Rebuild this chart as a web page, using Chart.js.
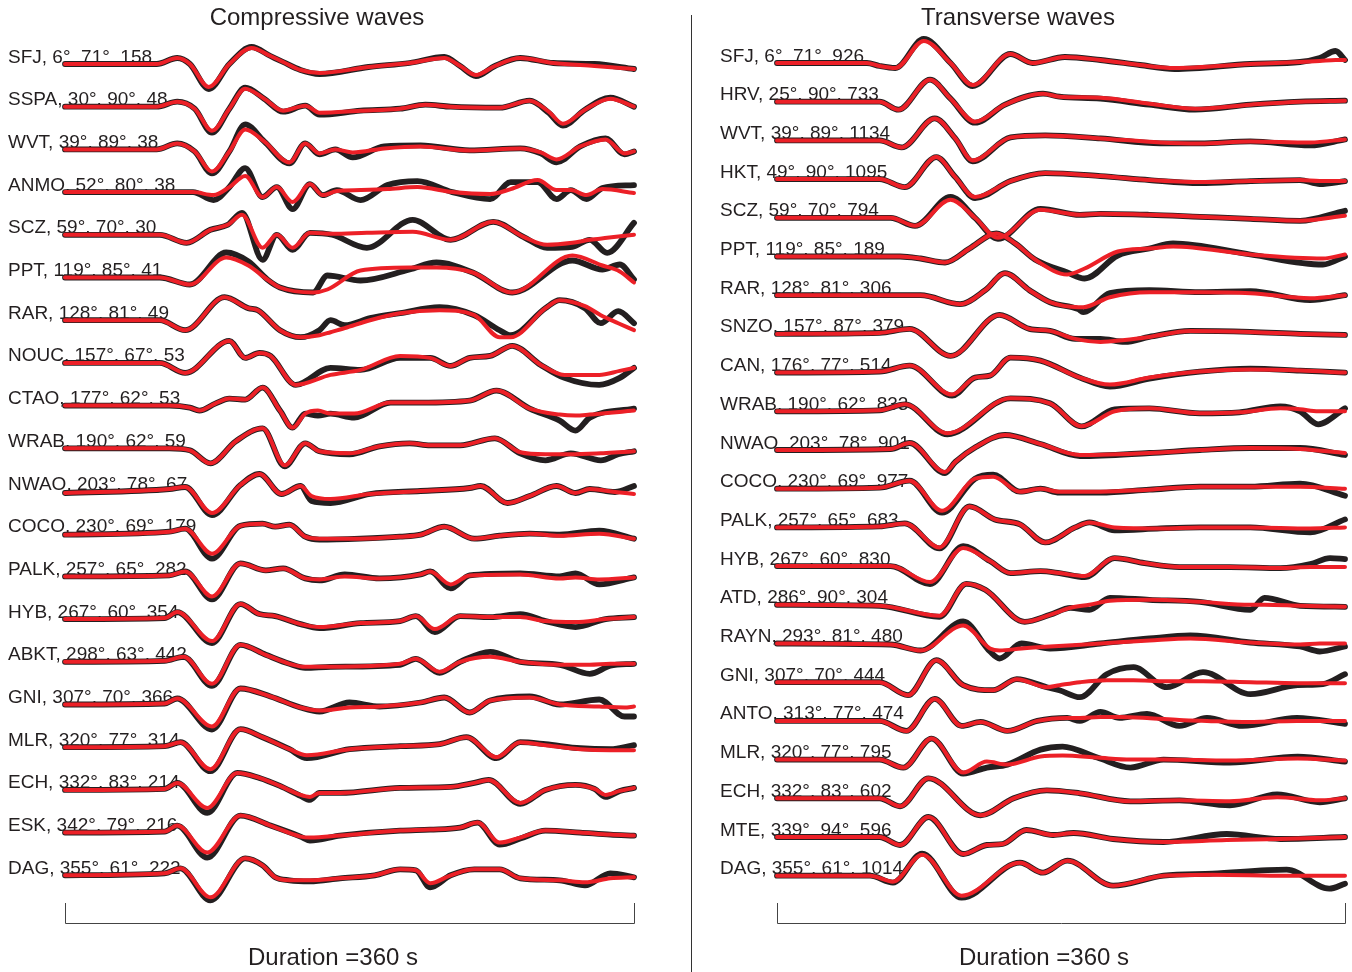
<!DOCTYPE html>
<html>
<head>
<meta charset="utf-8">
<script src="https://cdn.jsdelivr.net/npm/chart.js@4.4.1/dist/chart.umd.min.js"></script>
<style>
  html, body { margin: 0; padding: 0; background: #fff; }
  #wrap { position: relative; width: 1352px; height: 972px; overflow: hidden; }
  #pChart { position: absolute; left: 0; top: 0; }
  #sChart { position: absolute; left: 691px; top: 0; }
  #divider { position: absolute; left: 691px; top: 15px; width: 1px; height: 957px; background: #333; }
</style>
</head>
<body>
<div id="wrap">
  <canvas id="pChart" width="691" height="972"></canvas>
  <canvas id="sChart" width="661" height="972"></canvas>
  <div id="divider"></div>
</div>
<script>
// ---- Compressive (P) waves: station, azimuth, distance, amplitude ----
const pStations = ['SFJ', 'SSPA', 'WVT', 'ANMO', 'SCZ', 'PPT', 'RAR', 'NOUC', 'CTAO', 'WRAB',
                   'NWAO', 'COCO', 'PALK', 'HYB', 'ABKT', 'GNI', 'MLR', 'ECH', 'ESK', 'DAG'];
const pAzimuth = [6, 30, 39, 52, 59, 119, 128, 157, 177, 190, 203, 230, 257, 267, 298, 307, 320, 332, 342, 355];
const pDistance = [71, 90, 89, 80, 70, 85, 81, 67, 62, 62, 78, 69, 65, 60, 63, 70, 77, 83, 79, 61];
const pAmp = [158, 48, 38, 38, 30, 41, 49, 53, 53, 59, 67, 179, 282, 354, 442, 366, 314, 214, 216, 222];

// time (s) of each picked sample, observed (black) and synthetic (red) trace values
const pTime = [
  [0,58,71,79,91,104,118,130,138,149,161,192,218,240,250,260,272,288,309,335,360],
  [0,58,71,82,93,104,114,126,138,152,161,187,212,228,244,275,294,306,315,329,345,360],
  [0,58,71,82,93,104,114,126,142,152,161,171,182,202,225,256,288,301,311,326,342,354,360],
  [0,66,81,94,104,114,125,134,144,155,163,172,187,204,223,245,269,282,299,311,320,330,340,360],
  [0,60,77,92,103,112,125,134,144,155,169,191,220,244,271,290,305,321,332,343,360],
  [0,60,79,102,116,128,136,157,166,187,218,235,258,283,321,340,351,360],
  [0,60,76,101,116,122,136,149,161,168,177,193,212,237,259,275,282,304,313,329,339,350,360],
  [0,60,76,104,114,123,130,146,168,187,212,231,244,256,269,283,301,316,338,351,360],
  [0,66,79,85,95,104,114,125,136,144,152,160,168,183,206,225,256,273,294,313,323,332,360],
  [0,66,79,92,108,125,139,152,161,180,199,218,231,250,272,288,304,320,339,350,360],
  [0,66,76,93,111,123,137,149,156,168,193,225,256,263,280,294,311,323,332,348,360],
  [0,66,76,93,111,125,133,142,152,161,187,212,225,240,259,275,294,313,338,360],
  [0,66,76,93,111,127,138,152,161,177,199,225,231,244,256,288,313,323,338,360],
  [0,63,71,93,111,123,133,149,161,187,212,222,234,250,269,288,304,323,342,360],
  [0,63,75,93,111,127,142,152,168,212,222,237,250,269,288,313,332,345,360],
  [0,63,71,93,111,130,149,161,180,199,225,240,256,269,294,313,338,354,360],
  [0,63,73,92,111,125,142,153,180,212,237,254,273,288,304,326,345,360],
  [0,63,71,90,109,123,136,149,155,161,174,212,244,259,268,288,304,323,335,342,351,360],
  [0,63,71,90,111,130,149,155,174,212,231,250,261,275,288,304,326,345,360],
  [0,63,73,92,114,125,133,142,155,174,196,212,222,231,244,259,275,288,313,329,345,360]
];
const pObs = [
  [0,0,6,0,-25,0,17,8,2,-6,-10,-3,1,7,-2,-12,-2,6,1,0,-5],
  [0,0,5,-2,-26,-2,19,8,-5,1,-8,-4,-2,2,0,-1,6,-6,-19,-3,9,0],
  [0,0,6,-2,-24,-2,25,8,-14,6,-5,0,-8,3,4,-1,1,-4,-13,3,11,-5,-2],
  [0,0,0,-8,5,24,-5,5,-17,8,-3,2,-8,7,11,0,-7,10,10,-7,2,-7,4,7],
  [0,0,-8,5,10,22,-25,0,-15,2,0,-13,15,-5,13,-2,-13,-12,-5,-18,12],
  [0,0,-7,25,16,-2,-10,-15,2,-3,8,15,5,-15,17,8,13,-2],
  [0,0,-10,23,12,10,-10,-17,-10,0,-5,2,7,13,5,-10,-15,12,20,12,-3,9,-3],
  [0,0,-10,22,5,10,7,-22,-5,-7,5,5,-3,5,7,17,-2,-15,-22,-15,-5],
  [0,0,-2,-5,2,7,6,18,-5,-22,-8,-10,-8,-12,3,3,5,15,-3,-15,-25,-12,-3],
  [0,0,-2,-15,7,20,-18,5,-3,-6,2,5,3,3,10,-5,-12,-5,-12,-6,-3],
  [-2,2,4,-24,6,17,-3,5,-10,-12,-3,0,3,5,-12,-5,5,-2,2,-1,5],
  [-1,2,5,-25,8,10,7,9,-3,-6,-5,-3,-1,7,-5,-2,0,-1,3,-5],
  [0,1,5,-23,13,6,8,-2,-4,2,-2,2,5,-12,1,3,0,3,-8,-1],
  [0,1,7,-24,15,5,3,-5,-9,-4,-2,3,-13,3,2,5,-2,-8,0,2],
  [0,1,5,-24,17,7,-2,-6,-5,-3,3,-11,0,10,0,-3,-12,-4,-2],
  [0,1,6,-25,16,8,-3,-7,2,-2,2,7,-8,4,8,0,5,-12,-12],
  [0,1,5,-24,18,10,-2,-11,-2,1,3,10,-11,5,3,-1,-2,2],
  [0,1,7,-23,17,12,4,-6,-10,-3,-3,2,3,7,10,-14,0,5,1,-7,-1,2],
  [0,1,7,-25,17,7,-4,-8,-3,2,3,5,10,-12,-6,2,0,-2,-3],
  [0,2,7,-25,17,10,-2,-5,-6,-3,0,6,5,-12,0,6,6,-3,-5,-10,2,-2]
];
const pSyn = [
  [0,0,6,0,-23,0,16,8,2,-6,-9,-3,1,6,-2,-11,-2,6,1,-2,-5],
  [0,0,5,-2,-24,-2,18,8,-4,1,-6,-4,-2,2,0,-1,6,-5,-17,-3,8,0],
  [0,0,6,-2,-22,-2,20,8,-13,6,-4,0,-3,1,3,-1,1,-3,-10,3,10,-4,-2],
  [0,0,0,-3,5,16,-5,5,-10,8,-3,1,2,3,5,0,-2,3,12,2,2,-3,3,-1],
  [0,0,-8,5,10,20,-13,0,-13,2,1,2,3,-5,13,-2,-10,-8,-5,-3,0],
  [0,0,-7,20,12,-2,-10,-15,-12,7,10,10,5,-15,22,12,6,-5],
  [0,0,-10,23,12,10,-10,-17,-15,-12,-8,0,7,10,5,-17,-17,12,20,14,5,-3,-10],
  [0,0,-10,22,5,10,7,-22,-12,-7,7,5,-3,5,7,17,-2,-12,-12,-8,-5],
  [0,0,-2,-5,2,7,6,18,-5,-22,-8,-5,-8,-8,3,3,5,15,-3,-9,-10,-9,-5],
  [0,0,-2,-15,7,20,-17,5,-3,-5,2,5,3,3,10,-4,-6,-6,-5,-4,-3],
  [-2,2,4,-22,6,17,-3,5,-5,-8,-3,0,3,5,-12,-5,5,-2,2,-1,-3],
  [-1,2,5,-20,8,10,7,9,-3,-5,-5,-3,-1,7,-5,-2,0,-2,0,-5],
  [0,1,5,-20,13,6,8,-2,-3,0,-2,2,5,-8,1,2,-2,-1,-3,-1],
  [0,1,7,-22,15,5,3,-5,-8,-4,-2,3,-10,3,2,2,-2,-3,0,2],
  [0,1,5,-22,17,7,-2,-5,-5,-2,3,-10,0,5,0,-3,-3,-2,-2],
  [0,1,6,-22,16,8,-3,-6,-3,-2,2,7,-8,4,7,0,-2,-3,-2],
  [0,1,5,-22,18,10,-2,-8,-2,1,3,10,-10,5,2,-2,-3,-3],
  [0,1,7,-18,17,12,4,-5,-7,-3,-3,2,3,7,10,-13,0,5,1,-5,-1,2],
  [0,1,7,-20,17,7,-4,-5,-3,2,3,5,10,-10,-5,2,0,-2,-3],
  [0,2,7,-22,17,10,-2,-5,-5,-3,0,6,5,-8,0,6,6,-3,-5,-7,-3,-2]
];

// ---- Transverse (S) waves ----
const sStations = ['SFJ', 'HRV', 'WVT', 'HKT', 'SCZ', 'PPT', 'RAR', 'SNZO', 'CAN', 'WRAB', 'NWAO',
                   'COCO', 'PALK', 'HYB', 'ATD', 'RAYN', 'GNI', 'ANTO', 'MLR', 'ECH', 'MTE', 'DAG'];
const sAzimuth = [6, 25, 39, 49, 59, 119, 128, 157, 176, 190, 203, 230, 257, 267, 286, 293, 307, 313, 320, 332, 339, 355];
const sDistance = [71, 90, 89, 90, 70, 85, 81, 87, 77, 62, 78, 69, 65, 60, 90, 81, 70, 77, 77, 83, 94, 61];
const sAmp = [926, 733, 1134, 1095, 794, 189, 306, 379, 514, 833, 901, 977, 683, 830, 304, 480, 444, 474, 795, 602, 596, 1014];

const sTime = [
  [0,57,65,75,93,110,124,148,162,182.5,205,230,252,300,331.5,344,354,360],
  [0,65,77,97,110,125.5,144.5,168.6,179,205,236,265,300,331.5,360],
  [0,65,79,100,113,124,148,170,205,243,268,300,338,360],
  [0,65,81,101,113,125.5,148,170,205,236,268,300,331.5,344,360],
  [0,72,87.5,110,125.5,140,167,192,205,236,268,300,331.5,360],
  [0,78,91,106.5,122,139,151,163.5,184,195,216,236,251,300,346,360],
  [0,91,116,132,144.5,160,173,191,194,211,236,268,300,338,360],
  [0,65,84,110,141,160,173,189,205,220.5,236,262,300,331.5,360],
  [0,65,84,111,125.5,135,148,167,192,211,236,268,300,331.5,360],
  [0,65,81,108,148,173,193,214,236,268,293,319,331.5,343,360],
  [0,72,84,106.5,113,126,144.5,167,192,236,268,300,331.5,360],
  [0,65,84,104.6,125.5,137,154,167,179,205,236,268,300,331.5,360],
  [0,65,81,103,122,138,154,170,189,198,214,243,268,300,338,360],
  [0,72,97,118,135,148,167,179,195,214,233,255,287,319,338,350.5,360],
  [0,65,103,120,132,157,173,186,198,211,236,268,300,309,331.5,360],
  [0,72,91,118,135,141,155,173,205,236,262,300,331.5,344,360],
  [0,65,83,101,118,137,152,171,179,192,209,226,247,270,300,330,346,360],
  [0,65,82,100,117,129,146,165,184,192,205,217,234.5,255,272.5,295,329.5,360],
  [0,65,80,98,118,133,146,167,181,203,224,245,287,330,360],
  [0,65,78,96,129,150,171,192,224,255,287,317,344,360],
  [0,65,78,96,118,133,143,158,175,188,213,245,285,319,360],
  [0,59,73.5,92,117,154,168.6,184,213,245,276,323,350,360]
];
const sObs = [
  [0,0,-3,-5,24,0,-23,9,0,6,3,-2,-6,-1,1,5,12,3],
  [0,0,-8,22,3,-21,-3,8,5,3,-3,-8,-3,0,1],
  [0,0,-7,22,2,-21,3,5,2,-3,-3,-1,-5,1],
  [0,0,-8,22,2,-19,-2,6,3,-1,-4,-2,-1,-5,-2],
  [0,0,-8,21,0,-21,9,3,4,3,1,-1,-3,7],
  [0,0,-2,-6,8,23,13,-3,-16,-22,1,8,13,2,-8,0],
  [0,0,-9,5,22,5,-7,-14,-17,2,5,3,4,-5,0],
  [0,1,5,-22,19,5,3,-5,-5,-8,-3,3,2,0,-1],
  [0,1,7,-23,-5,-3,15,12,-5,-14,-6,1,4,2,0],
  [0,1,7,-23,13,8,-15,2,3,-2,-1,5,0,-13,3],
  [0,1,7,-23,-12,3,15,6,-6,-3,0,2,2,-5],
  [0,1,8,-24,10,14,-3,0,-4,-4,-1,2,2,5,-7],
  [0,1,4,-21,21,8,3,-15,0,5,-3,-1,0,0,-5,8],
  [0,0,-18,20,5,-7,-5,-7,-11,8,3,-1,-1,-2,2,8,7],
  [0,-1,-12,21,15,-17,-10,-3,-5,7,5,3,-5,7,-1,-2],
  [0,-1,-7,22,-8,-15,0,-5,0,5,8,1,-3,-8,-3],
  [0,0,-13,22,-3,-8,3,-5,-8,-15,8,15,-5,10,-12,-3,-2,8],
  [0,0,-10,22,-5,-1,-10,0,3,0,9,3,7,-5,3,-5,3,-3],
  [0,0,-8,21,-14,-8,-5,10,13,2,-8,0,-3,3,-2],
  [0,0,-8,20,-17,0,8,5,-3,-2,-7,4,-4,0],
  [0,0,-8,20,-17,-8,-7,7,2,4,-2,-5,3,-2,0],
  [0,0,-7,22,-22,13,3,15,-10,0,2,6,-13,-8]
];
const sSyn = [
  [0,0,-3,-5,22,0,-22,9,0,6,3,-2,-5,-1,1,2,3,3],
  [0,0,-8,22,3,-20,-3,8,5,4,-2,-7,-3,0,1],
  [0,0,-7,22,2,-20,3,5,2,-2,-3,-1,-2,1],
  [0,0,-8,22,2,-18,-2,6,3,-1,-3,-2,-1,-2,-2],
  [0,0,-8,18,0,-20,8,3,4,3,1,-1,-3,2],
  [0,0,-2,-6,8,23,13,-3,-18,-12,5,8,10,2,-2,2],
  [0,0,-9,5,22,5,-7,-12,-12,-2,3,3,2,-3,0],
  [0,1,5,-22,19,5,3,-5,-8,-6,-3,3,2,0,-1],
  [0,1,7,-22,-5,-3,15,12,-5,-12,-5,1,3,2,0],
  [0,1,7,-22,13,8,-15,0,3,-2,-1,3,2,0,0],
  [0,1,7,-22,-12,3,15,6,-5,-3,0,2,1,-3],
  [0,1,8,-22,10,12,-3,0,-3,-3,-1,2,2,2,0],
  [0,1,4,-20,21,8,3,-15,0,5,0,-1,0,0,-1,0],
  [0,0,-16,18,5,-7,-5,-7,-10,8,3,-1,-1,-2,-1,-1,-1],
  [0,-1,-11,21,15,-17,-10,-3,0,4,5,3,0,0,-1,-2],
  [0,-1,-7,18,-5,-7,-5,-3,0,3,5,1,-1,0,0],
  [0,0,-13,22,-3,-8,3,-5,-3,0,2,2,1,1,0,-1,-1,-1],
  [0,0,-10,22,-5,-1,-10,0,3,3,4,4,3,1,0,-1,0,0],
  [0,0,-8,21,-13,-2,-5,3,4,2,0,0,-1,1,-1],
  [0,0,-8,20,-17,0,8,5,-3,-2,-3,1,-2,0],
  [0,0,-8,20,-17,-8,-7,7,2,4,-2,-5,-3,-2,0],
  [0,0,-6,21,-20,13,3,15,-10,0,1,0,0,0]
];

const BLACK = '#231f20';
const RED = '#ec2027';
const FONT = '"Liberation Sans", Arial, Helvetica, sans-serif';
const DURATION = 360;

// one black + one red line per station, each trace shifted down by its row
function buildDatasets(times, obs, syn, spacing) {
  const sets = [];
  times.forEach((t, i) => {
    sets.push({
      data: t.map((x, j) => ({ x: x, y: obs[i][j] - i * spacing })),
      borderColor: BLACK, borderWidth: 5.8, order: 1
    });
    sets.push({
      data: t.map((x, j) => ({ x: x, y: syn[i][j] - i * spacing })),
      borderColor: RED, borderWidth: 4, order: 0
    });
  });
  return sets;
}

// labels, panel title, duration bracket
const panelText = {
  id: 'panelText',
  beforeDatasetsDraw(chart, args, o) {
    const ctx = chart.ctx;
    const xs = chart.scales.x, ys = chart.scales.y;
    ctx.save();
    ctx.fillStyle = BLACK;
    ctx.textBaseline = 'alphabetic';
    ctx.textAlign = 'left';
    ctx.font = '19px ' + FONT;
    o.names.forEach((n, i) => {
      const txt = n + ', ' + o.az[i] + '°, ' + o.dist[i] + '°, ' + o.amp[i];
      ctx.fillText(txt, o.labelX, ys.getPixelForValue(-i * o.spacing) - 1.5);
    });
    ctx.textAlign = 'center';
    ctx.font = '24px ' + FONT;
    ctx.fillText(o.title, o.titleX, 25);
    ctx.fillText('Duration =' + DURATION + ' s', o.durX, 965);

    const x0 = Math.round(xs.getPixelForValue(0)) + 0.5;
    const x1 = Math.round(xs.getPixelForValue(DURATION)) + 0.5;
    ctx.strokeStyle = '#444';
    ctx.lineWidth = 1;
    ctx.beginPath();
    ctx.moveTo(x0, 903);
    ctx.lineTo(x0, 923.5);
    ctx.lineTo(x1, 923.5);
    ctx.lineTo(x1, 903);
    ctx.stroke();
    ctx.restore();
  }
};

function makeChart(id, cfg) {
  return new Chart(document.getElementById(id), {
    type: 'line',
    data: { datasets: buildDatasets(cfg.times, cfg.obs, cfg.syn, cfg.spacing) },
    options: {
      responsive: false,
      animation: false,
      events: [],
      layout: { padding: { left: cfg.padLeft, right: cfg.padRight, top: 0, bottom: 0 } },
      elements: {
        line: { cubicInterpolationMode: 'monotone', borderCapStyle: 'round', borderJoinStyle: 'round', fill: false },
        point: { radius: 0 }
      },
      datasets: { line: { clip: false } },
      scales: {
        x: { type: 'linear', min: 0, max: DURATION, display: false },
        y: { min: cfg.top - 972, max: cfg.top, display: false }
      },
      plugins: {
        legend: { display: false },
        tooltip: { enabled: false },
        panelText: {
          names: cfg.names, az: cfg.az, dist: cfg.dist, amp: cfg.amp,
          spacing: cfg.spacing, labelX: cfg.labelX,
          title: cfg.title, titleX: cfg.titleX, durX: cfg.durX
        }
      }
    },
    plugins: [panelText]
  });
}

makeChart('pChart', {
  times: pTime, obs: pObs, syn: pSyn, spacing: 42.7, top: 64,
  padLeft: 65, padRight: 57,
  names: pStations, az: pAzimuth, dist: pDistance, amp: pAmp,
  labelX: 8, title: 'Compressive waves', titleX: 317, durX: 333
});

makeChart('sChart', {
  times: sTime, obs: sObs, syn: sSyn, spacing: 38.7, top: 63,
  padLeft: 86, padRight: 7,
  names: sStations, az: sAzimuth, dist: sDistance, amp: sAmp,
  labelX: 29, title: 'Transverse waves', titleX: 327, durX: 353
});
</script>
</body>
</html>
